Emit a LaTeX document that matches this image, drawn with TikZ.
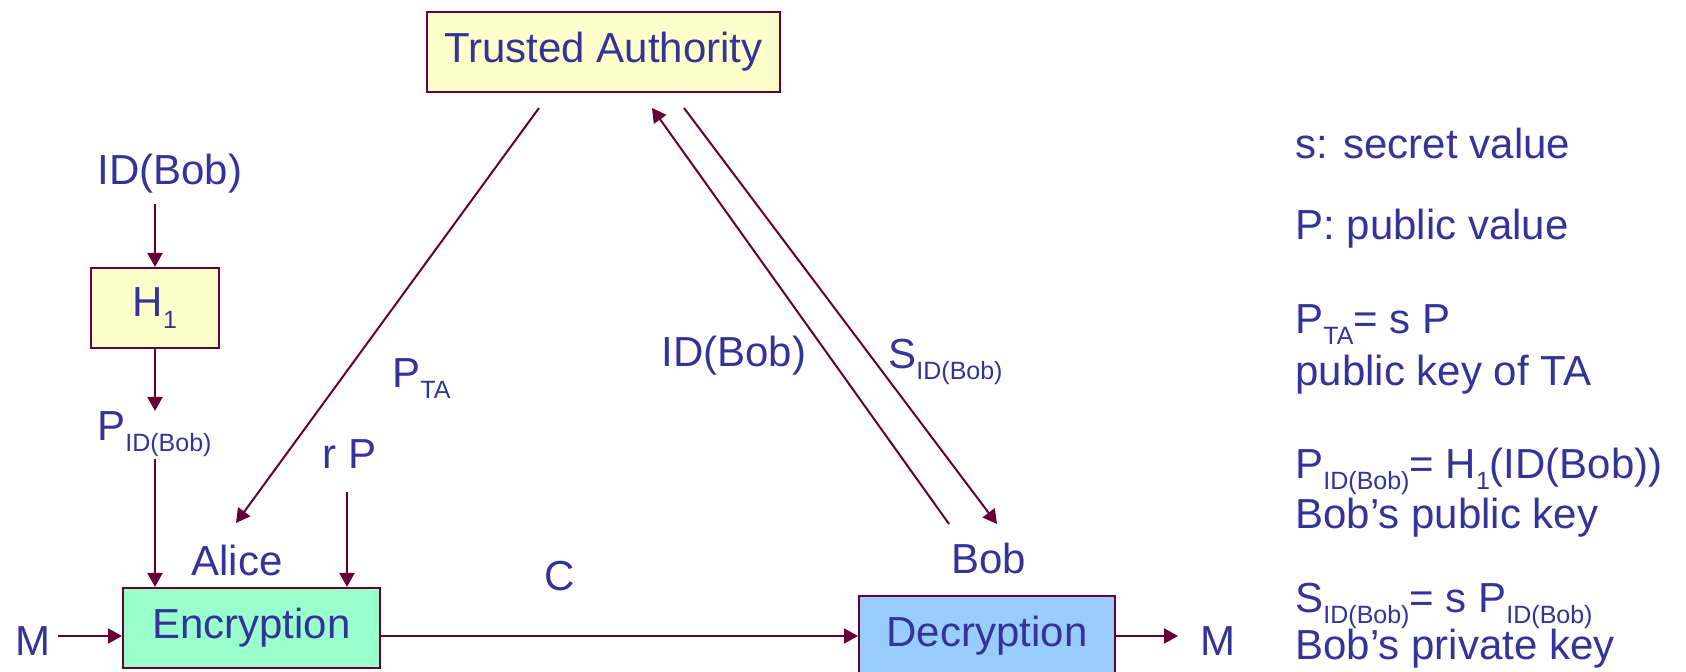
\documentclass[tikz,border=0pt]{standalone}
\usepackage{fontspec}
\setmainfont{Liberation Sans}
\usepackage{tikz}
\usetikzlibrary{arrows.meta,positioning}
\definecolor{tablue}{HTML}{333399}
\definecolor{tamaroon}{HTML}{660033}
\definecolor{tayellow}{HTML}{FFFFCC}
\definecolor{tagreen}{HTML}{99FFCC}
\definecolor{tasky}{HTML}{99CCFF}
\newcommand{\subtx}[1]{\raisebox{-5.5pt}{\fontsize{12.5}{13}\selectfont #1}}

\begin{document}
\begin{tikzpicture}[x=0.5pt,y=-0.5pt,
 box/.style={rectangle,draw=tamaroon,line width=1pt,font=\fontsize{21}{25}\selectfont,
   text=tablue,inner sep=0pt,minimum height=40pt},
 lbl/.style={anchor=base west,inner sep=0pt,font=\fontsize{21}{25}\selectfont,text=tablue},
 ar/.style={draw=tamaroon,line width=1pt,-{Triangle[length=7pt,width=7.5pt]}}]
\useasboundingbox (0,0) rectangle (1686,672);
% boxes
\node [box,fill=tayellow,minimum width=176.5pt] (ta) at (603.5,52) {Trusted Authority};
\node [box,fill=tayellow,minimum width=64pt] (h1) at (155,308) {H\raisebox{-6pt}{\fontsize{12.5}{13}\selectfont 1}};
\node [box,fill=tagreen,minimum width=128.5pt] (enc) at (251.5,628) {Encryption};
\node [box,fill=tasky,minimum width=128pt] (dec) at (987,636) {Decryption};
% labels
\node [lbl] (idbob) at (97,185) {ID(Bob)};
\node [lbl] (pidbob) at (97,441) {P\subtx{ID(Bob)}};
\node [lbl] (rp) at (322,469) {r P};
\node [lbl] (pta) at (392,388) {P\subtx{TA}};
\node [lbl] (alice) at (191,576) {Alice};
\node [lbl] (c) at (544,591) {C};
\node [lbl] (mleft) at (15,656) {M};
\node [lbl] (idbobr) at (661,367) {ID(Bob)};
\node [lbl] (sidbob) at (888,369) {S\subtx{ID(Bob)}};
\node [lbl] (bob) at (951,574) {Bob};
\node [lbl] (mright) at (1200,656) {M};
% legend
\node [lbl] (n1) at (1295,159) {s: secret value};
\node [lbl] (n2) at (1295,240) {P: public value};
\node [lbl] (n3) at (1295,334) {P\subtx{TA}= s P};
\node [lbl] (n3b) at (1295,386) {public key of TA};
\node [lbl] (n4) at (1295,479) {P\subtx{ID(Bob)}= H\subtx{1}(ID(Bob))};
\node [lbl] (n4b) at (1295,529) {Bob’s public key};
\node [lbl] (n5) at (1295,613) {S\subtx{ID(Bob)}= s P\subtx{ID(Bob)}};
\node [lbl] (n5b) at (1295,660) {Bob’s private key};
% connector ends
\coordinate (idbobS) at (155,204);
\coordinate (pidN) at (155,411);
\coordinate (pidS) at (155,459);
\coordinate (rpS) at (347,492);
\coordinate (mlE) at (58,636);
\coordinate (mrW) at (1178,636);
\coordinate (taA) at (539,108);
\coordinate (aliceN) at (236,523);
\coordinate (bobA) at (949,524);
\coordinate (taB) at (652,108);
\coordinate (taC) at (684,108);
\coordinate (bobB) at (997,524);
% connectors
\draw [ar] (idbobS) -- (h1.north);
\draw [ar] (h1.south) -- (pidN);
\draw [ar] (pidS) -- (pidS |- enc.north);
\draw [ar] (rpS) -- (rpS |- enc.north);
\draw [ar] (mlE) -- (mlE -| enc.west);
\draw [ar] (enc.east |- dec.west) -- (dec.west);
\draw [ar] (dec.east) -- (mrW);
\draw [ar] (taA) -- (aliceN);
\draw [ar] (bobA) -- (taB);
\draw [ar] (taC) -- (bobB);
\end{tikzpicture}
\end{document}
